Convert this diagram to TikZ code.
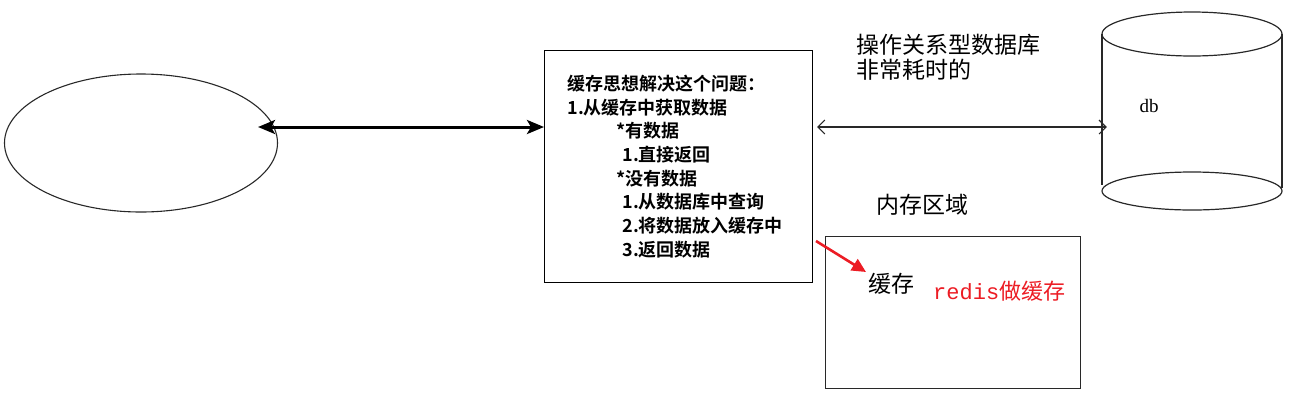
\documentclass[tikz,border=0pt]{standalone}
\usepackage{fontspec}
\setmainfont{Noto Sans CJK SC}[BoldFont={Noto Sans CJK SC Bold}]
\setmonofont{Liberation Mono}
\newfontfamily\dbfont{Liberation Serif}
\usepackage{tikz}
\usetikzlibrary{shapes.geometric}
\usetikzlibrary{positioning}
\usetikzlibrary{arrows.meta}
\definecolor{linegray}{RGB}{40,40,40}
\definecolor{redisred}{RGB}{236,28,36}
\tikzstyle{client}=[draw=linegray,line width=1.1pt,ellipse,inner sep=0pt,minimum width=273pt,minimum height=138pt]
\tikzstyle{idea}=[draw=black,line width=1pt,rectangle,inner xsep=23pt,text width=222pt,minimum height=232pt,align=left,font=\bfseries\fontsize{18}{23.7}\selectfont]
\tikzstyle{membox}=[draw=linegray,line width=1.3pt,rectangle,minimum width=255pt,minimum height=152pt]
\tikzstyle{lbl}=[inner sep=0pt,font=\fontsize{23}{25}\selectfont,align=left]
\tikzstyle{boldarrow}=[line width=3pt,{Stealth[length=17pt,width=14pt,inset=4pt]}-{Stealth[length=17pt,width=14pt,inset=4pt]}]
\tikzstyle{thinarrow}=[draw=linegray,line width=1.1pt,{Straight Barb[length=7pt,width=14pt]}-{Straight Barb[length=7pt,width=14pt]}]
\tikzstyle{redarrow}=[draw=redisred,line width=2.6pt,-{Triangle[length=14pt,width=13pt]}]

\begin{document}
\begin{tikzpicture}[x=1pt,y=-1pt]
	\useasboundingbox (0,0) rectangle (1302,400);
	\node[client] (browser) at (141,143) {};
	\node[idea,anchor=north west] (idea) at (544,50) {缓存思想解决这个问题：\\1.从缓存中获取数据\\\hspace*{49pt}*有数据\\\hspace*{55pt}1.直接返回\\\hspace*{49pt}*没有数据\\\hspace*{55pt}1.从数据库中查询\\\hspace*{55pt}2.将数据放入缓存中\\\hspace*{55pt}3.返回数据};
	\node[membox,anchor=north west] (memory) at (825,236) {};
	\node[minimum width=180pt,minimum height=157pt,inner sep=0pt] (db) at (1192,112) {};
	
	\draw[linegray,line width=1.2pt] (1192,34) ellipse [x radius=90, y radius=22];
	\draw[linegray,line width=1.2pt] (1102,34) -- (1102,185) (1282,34) -- (1282,188);
	\draw[linegray,line width=1.2pt] (1192,191) ellipse [x radius=90, y radius=19];
	
	\node[inner sep=0pt,font=\dbfont\fontsize{19}{19}\selectfont] (dblabel) at (1149,106) {db};
	\node[lbl,anchor=north west] (slow) at (856,34) {操作关系型数据库\\非常耗时的};
	\node[lbl] (memtitle) at (922,205) {内存区域};
	\node[lbl,anchor=west] (cache) at (868,284) {缓存};
	\node[inner sep=0pt,anchor=west,text=redisred,font=\fontsize{22}{22}\selectfont] (redis) at (933,291) {\texttt{redis}做缓存};
	
	\draw[boldarrow] ([xshift=-20pt,yshift=16pt]browser.east) -- (idea.west |- 0,127);
	\draw[thinarrow,shorten <=4pt,shorten >=-5pt] (idea.east |- 0,127) -- (db.west |- 0,127);
	\draw[redarrow] ([yshift=42pt,xshift=3pt]idea.south east) -- ([yshift=12pt,xshift=-2pt]cache.west);
\end{tikzpicture}
\end{document}
